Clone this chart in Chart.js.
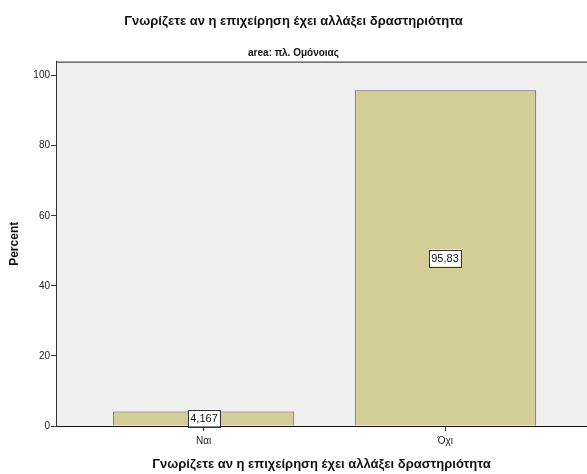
<!DOCTYPE html>
<html>
<head>
<meta charset="utf-8">
<script src="https://cdn.jsdelivr.net/npm/chart.js@4"></script>
<style>
	body { margin: 0; background: white; }
	#wrap { width: 587px; height: 474px; }
</style>
</head>
<body>
<div id="wrap"><canvas id="chart-1"></canvas></div>
<script>
// values
const categories = ["Ναι", "Όχι"];
const percents = [4.167, 95.83];
const yTicks = [0, 20, 40, 60, 80, 100];

const titleText = "Γνωρίζετε αν η επιχείρηση έχει αλλάξει δραστηριότητα";
const subTitle = "area: πλ. Ομόνοιας";

var fontName = "'Liberation Sans', Arial, sans-serif";

// grey plot background + top frame line
var frame = {
	id: 'frame',
	beforeDraw: chart => {
		let ctx = chart.ctx;
		let a = chart.chartArea;
		ctx.save();
		ctx.fillStyle = "#F0F0F0";
		ctx.fillRect(a.left, a.top, a.right - a.left, a.bottom - a.top);
		ctx.strokeStyle = "#222";
		ctx.lineWidth = 1;
		ctx.beginPath();
		ctx.moveTo(a.left, a.top + 0.5);
		ctx.lineTo(a.right, a.top + 0.5);
		ctx.stroke();
		ctx.restore();
	}
};

// boxed value labels in the middle of each bar
var boxLabels = {
	id: 'boxLabels',
	afterDatasetsDraw: chart => {
		let ctx = chart.ctx;
		let meta = chart.getDatasetMeta(0);
		ctx.save();
		ctx.font = "11px " + fontName;
		ctx.textAlign = "center";
		ctx.textBaseline = "middle";
		meta.data.forEach((bar, i) => {
			let txt = percents[i].toString().replace(".", ",");
			let w = ctx.measureText(txt).width + 4;
			let h = 17;
			let cx = Math.round(bar.x);
			let cy = Math.round((bar.y + bar.base) / 2);
			ctx.fillStyle = "white";
			ctx.fillRect(cx - w / 2, cy - h / 2, w, h);
			ctx.strokeStyle = "#333";
			ctx.lineWidth = 1;
			ctx.strokeRect(Math.round(cx - w / 2) + 0.5, Math.round(cy - h / 2) + 0.5, Math.round(w), h);
			ctx.fillStyle = "#111";
			ctx.fillText(txt, cx, cy + 1);
		});
		ctx.restore();
	}
};

var data1 = {
	datasets: [{
		label: "Percent",
		data: categories.map((c, i) => ({ x: i, y: percents[i] })),
		backgroundColor: "#D3CE97",
		borderColor: "#5A5A5A",
		borderWidth: 1,
		barPercentage: 0.75,
		categoryPercentage: 1.0,
	}]
};

var options1 = {
	responsive: true,
	maintainAspectRatio: false,
	animation: false,
	layout: {
		padding: { left: 0, right: 0, top: 0, bottom: 0 }
	},
	plugins: {
		legend: { display: false },
		tooltip: { enabled: false },
		title: {
			display: true,
			text: titleText,
			color: "#111",
			font: { family: fontName, size: 13, weight: 'bold' },
			padding: { top: 14, bottom: 13 }
		},
		subtitle: {
			display: true,
			text: subTitle,
			color: "#111",
			font: { family: fontName, size: 10, weight: 'bold' },
			padding: { top: 5, bottom: 2 }
		}
	},
	scales: {
		x: {
			type: 'linear',
			offset: false,
			min: -0.61,
			max: 1.585,
			afterBuildTicks: scale => {
				scale.ticks = categories.map((c, i) => ({ value: i }));
			},
			afterFit: scale => { scale.height = 48; },
			grid: {
				offset: false,
				drawOnChartArea: false,
				drawTicks: true,
				tickLength: 5,
				color: "#333"
			},
			border: { display: true, color: "#111", width: 1 },
			ticks: {
				callback: v => categories[v],
				color: "#222",
				padding: 4,
				maxRotation: 0,
				font: { family: fontName, size: 10 }
			},
			title: {
				display: true,
				text: titleText,
				color: "#111",
				font: { family: fontName, size: 13, weight: 'bold' },
				padding: { top: 4, bottom: 2 }
			}
		},
		y: {
			min: 0,
			max: 104,
			afterBuildTicks: scale => {
				scale.ticks = yTicks.map(v => ({ value: v }));
			},
			afterFit: scale => { scale.width = 56; },
			grid: {
				drawOnChartArea: false,
				drawTicks: true,
				tickLength: 5,
				color: "#333"
			},
			border: { display: true, color: "#333", width: 1 },
			ticks: {
				color: "#222",
				padding: 1,
				font: { family: fontName, size: 10 }
			},
			title: {
				display: true,
				text: "Percent",
				color: "#111",
				font: { family: fontName, size: 12, weight: 'bold' },
				padding: { top: 7, bottom: 6 }
			}
		}
	}
};

var graph = new Chart('chart-1', {
	type: 'bar',
	data: data1,
	options: options1,
	plugins: [frame, boxLabels]
});
</script>
</body>
</html>
